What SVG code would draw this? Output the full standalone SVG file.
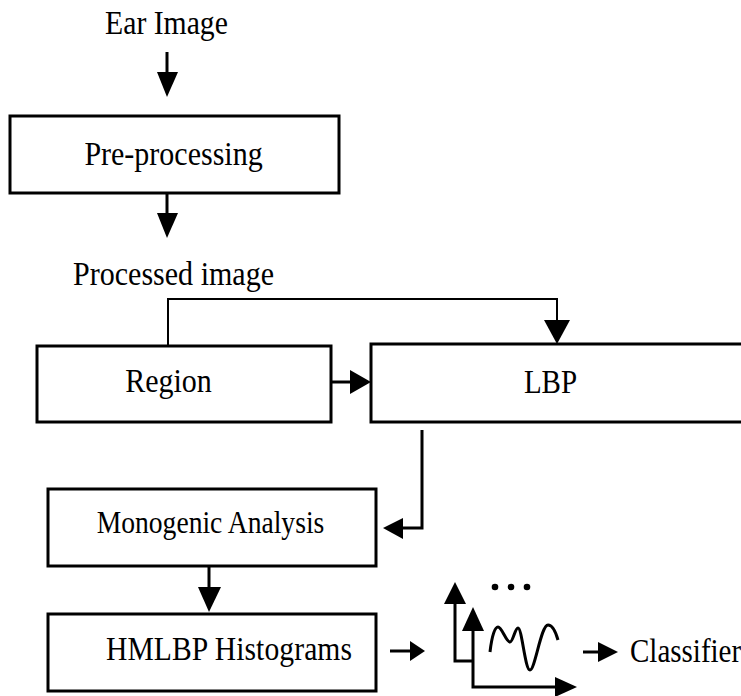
<svg xmlns="http://www.w3.org/2000/svg" width="741" height="696" viewBox="0 0 741 696">
<style>
text{font-family:"Liberation Serif","Times New Roman",serif;fill:#000}
.box{fill:#fff;stroke:#000;stroke-width:3}
.ln{fill:none;stroke:#000;stroke-width:3}
.thin{fill:none;stroke:#000;stroke-width:2}
.hd{fill:#000;stroke:none}
</style>
<rect width="741" height="696" fill="#fff"/>
<g id="ear-image"><text transform="translate(166.5,34) scale(1,1.13)" font-size="29.7" text-anchor="middle">Ear Image</text></g>
<g id="pre-processing"><rect class="box" x="10" y="116" width="329" height="77"/><text transform="translate(173.5,164.5) scale(1,1.13)" font-size="30" text-anchor="middle">Pre-processing</text></g>
<g id="processed-image"><text transform="translate(73,285) scale(1,1.13)" font-size="30" textLength="201">Processed image</text></g>
<g id="region"><rect class="box" x="37" y="346" width="294" height="76"/><text transform="translate(168.5,392) scale(1,1.13)" font-size="30" text-anchor="middle">Region</text></g>
<g id="lbp"><rect class="box" x="371" y="344" width="380" height="78"/><text transform="translate(550.5,393) scale(1,1.13)" font-size="29" text-anchor="middle">LBP</text></g>
<g id="monogenic"><rect class="box" x="48" y="489" width="328" height="77"/><text transform="translate(210.5,533) scale(1,1.13)" font-size="27.6" text-anchor="middle">Monogenic Analysis</text></g>
<g id="hmlbp"><rect class="box" x="48" y="614" width="328" height="77"/><text transform="translate(106,660) scale(1,1.13)" font-size="29.6" textLength="246">HMLBP Histograms</text></g>
<g id="histogram-plot">
<path class="ln" d="M455,603 V661 H473"/><polygon class="hd" points="444,604 466,604 455,582"/>
<path class="ln" d="M473,630 V687 H556"/><polygon class="hd" points="462,631 484,631 473,607"/><polygon class="hd" points="555,677 555,697 577,687"/>
<path class="ln" d="M490,652 C492,635 495,627 498,627 C502,627 506,642 510,642 C513,642 515,628 518,628 C522,628 525,670 530,670 C535,670 541,625 548,625 C553,625 556,633 558,640"/>
<circle cx="495" cy="587" r="3.3"/><circle cx="511" cy="587" r="3.3"/><circle cx="527" cy="587" r="3.3"/>
</g>
<g id="classifier"><text transform="translate(630,662) scale(1,1.13)" font-size="29">Classifier</text></g>
<g id="connectors">
<line class="ln" x1="167" y1="52" x2="167" y2="73"/><polygon class="hd" points="157,72 178,72 167,97"/>
<line class="ln" x1="167" y1="193" x2="167" y2="214"/><polygon class="hd" points="157,213 178,213 167,238"/>
<path class="thin" d="M168,346 V299 H557 V321"/><polygon class="hd" points="544,320 570,320 557,344"/>
<line class="ln" x1="331" y1="382" x2="351" y2="382"/><polygon class="hd" points="350,370 350,394 371,382"/>
<path class="ln" d="M422,430 V528 H402"/><polygon class="hd" points="403,518 403,539 383,528"/>
<line class="ln" x1="209" y1="566" x2="209" y2="588"/><polygon class="hd" points="198,587 221,587 209,612"/>
<line class="ln" x1="390" y1="651" x2="411" y2="651"/><polygon class="hd" points="410,641 410,661 425,651"/>
<line class="ln" x1="583" y1="652" x2="599" y2="652"/><polygon class="hd" points="598,642 598,662 618,652"/>
</g>
</svg>
